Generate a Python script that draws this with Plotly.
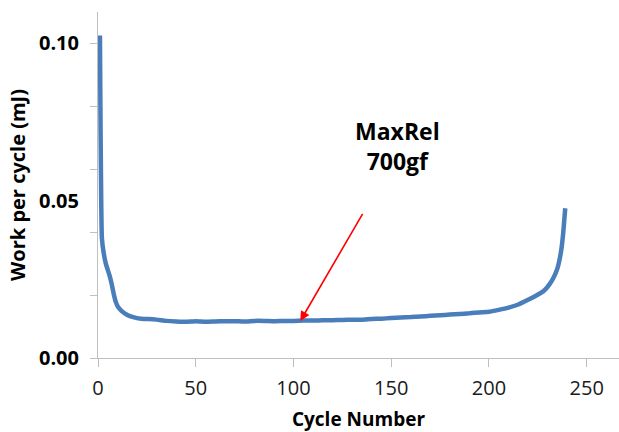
import plotly.graph_objects as go

cycles = [1, 2, 3, 4, 5, 6, 7, 8, 9, 10, 12, 15, 18, 22, 26, 30, 35, 40, 45, 50,
          55, 60, 65, 70, 75, 80, 85, 90, 95, 100, 105, 110, 115, 120, 125, 130,
          135, 140, 145, 150, 155, 160, 165, 170, 175, 180, 185, 190, 195, 200,
          205, 210, 215, 220, 224, 228, 231, 233, 235, 236, 237, 238, 239]
work = [0.1025, 0.038, 0.033, 0.030, 0.028, 0.026, 0.0235, 0.0205, 0.018, 0.0165,
        0.0150, 0.0137, 0.0130, 0.0125, 0.0124, 0.0122, 0.0118, 0.0116, 0.0115, 0.0117,
        0.0115, 0.0116, 0.0117, 0.0117, 0.0116, 0.0118, 0.0118, 0.0117, 0.0118, 0.0118,
        0.0119, 0.0119, 0.0120, 0.0120, 0.0121, 0.0122, 0.0122, 0.0124, 0.0125, 0.0127,
        0.0129, 0.0130, 0.0132, 0.0134, 0.0136, 0.0138, 0.0140, 0.0142, 0.0145, 0.0147,
        0.0153, 0.0160, 0.0170, 0.0185, 0.0198, 0.0213, 0.0235, 0.0255, 0.0285, 0.0310,
        0.0345, 0.0400, 0.0476]

x_ticks = [0, 50, 100, 150, 200, 250]
y_label_vals = [0.0, 0.05, 0.10]
y_label_text = ["0.00", "0.05", "0.10"]
y_tick_marks = [0.0, 0.02, 0.04, 0.06, 0.08, 0.10]

annotation_text = "MaxRel<br>700gf"
arrow_head = (103.5, 0.0118)
arrow_tail = (135.8, 0.0463)
text_pos = (153.0, 0.0675)

axis_grey = "#bfbfbf"

fig = go.Figure()
fig.add_trace(go.Scatter(
    x=cycles, y=work, mode="lines",
    line=dict(color="#4a7ebb", width=4.5, shape="spline", smoothing=0.4),
    showlegend=False, hoverinfo="skip",
))
# empty trace so the label-only overlay axis is drawn
fig.add_trace(go.Scatter(x=[None], y=[None], yaxis="y2", mode="lines",
                         showlegend=False, hoverinfo="skip"))

fig.update_layout(
    width=619, height=432,
    margin=dict(l=98, r=0, t=12, b=74, autoexpand=False),
    paper_bgcolor="white", plot_bgcolor="white",
    font=dict(family="Open Sans", color="black"),
    xaxis=dict(
        range=[0, 266.5], tickvals=x_ticks, ticks="outside", ticklen=8,
        tickcolor=axis_grey, tickwidth=1, showline=True, linecolor=axis_grey,
        linewidth=1.2, showgrid=False, zeroline=False,
        tickfont=dict(family="Open Sans", size=20, color="#1a1a1a"),
        ticklabelstandoff=4,
        title=dict(text="<b>Cycle Number</b>",
                   font=dict(family="Open Sans", size=19, color="black"),
                   standoff=16),
        automargin=False,
    ),
    yaxis=dict(
        range=[0, 0.11], tickvals=y_tick_marks, ticks="outside", ticklen=7,
        tickcolor=axis_grey, tickwidth=1, showline=True, linecolor=axis_grey,
        linewidth=1.2, showgrid=False, zeroline=False, showticklabels=False,
        title=dict(text="<b>Work per cycle (mJ)</b>",
                   font=dict(family="Open Sans", size=20, color="black"),
                   standoff=58),
        automargin=False,
    ),
    yaxis2=dict(
        range=[0, 0.11], overlaying="y", side="left", tickvals=y_label_vals,
        ticktext=["<b>%s</b>" % t for t in y_label_text], ticks="",
        showline=False, showgrid=False, zeroline=False,
        tickfont=dict(family="Open Sans", size=20, color="black"),
        ticklabelstandoff=18, automargin=False,
    ),
)

fig.add_annotation(
    x=arrow_head[0], y=arrow_head[1], xref="x", yref="y",
    ax=arrow_tail[0], ay=arrow_tail[1], axref="x", ayref="y",
    text="", showarrow=True, arrowhead=2, arrowsize=1.2, arrowwidth=1.6,
    arrowcolor="#ff0000", standoff=0,
)
fig.add_annotation(
    x=text_pos[0], y=text_pos[1], xref="x", yref="y",
    text="<b>%s</b>" % annotation_text, showarrow=False,
    font=dict(family="Open Sans", size=23, color="black"),
    align="center",
)

fig.write_html("out.html", config={"displayModeBar": False},
               post_script="document.body.style.margin='0';")
